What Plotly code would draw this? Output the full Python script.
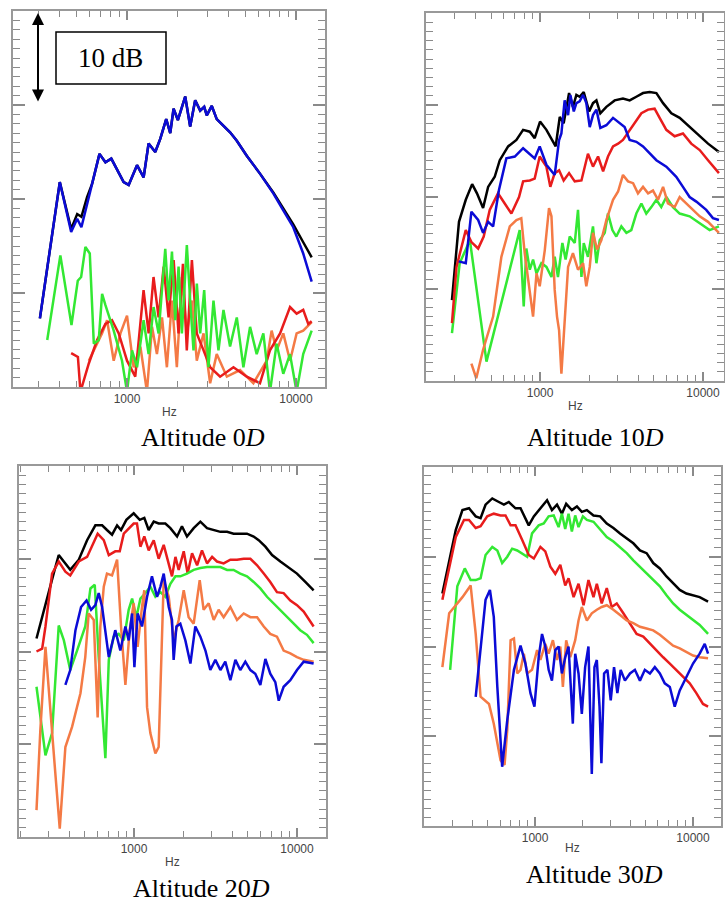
import plotly.graph_objects as go

# ---------------- data (frequency in Hz, level in dB, relative scale 0-40) ----------------
# Altitude 0D
p1_black_f = [305, 400, 467, 507, 537, 580, 621, 687, 745, 807, 955, 1023, 1146, 1254, 1342, 1469, 1573, 1706, 1802, 1886, 2000, 2112, 2210, 2365, 2532, 2711, 2863, 2966, 3175, 3397, 3636, 4074, 4465, 5113, 6124, 7343, 8413, 9640, 11043, 12390]
p1_black_db = [7.3, 21.8, 16.8, 18.4, 18.1, 20.2, 21.6, 24.8, 23.9, 24.3, 21.8, 21.5, 23.6, 22.3, 25.9, 25.0, 26.4, 28.5, 27.0, 29.6, 28.4, 29.8, 30.9, 27.7, 30.5, 29.4, 29.8, 28.9, 29.9, 28.5, 28.0, 27.1, 26.2, 24.6, 22.7, 20.7, 19.0, 17.3, 15.4, 13.8]
p1_blue_f = [305, 400, 467, 507, 537, 621, 687, 745, 807, 955, 1023, 1146, 1254, 1342, 1469, 1573, 1706, 1802, 1886, 2000, 2112, 2210, 2365, 2532, 2711, 2863, 2966, 3175, 3397, 3636, 4074, 4465, 5113, 6124, 7343, 8413, 9640, 11043, 12390]
p1_blue_db = [7.3, 21.8, 16.5, 17.9, 17.0, 21.5, 24.8, 23.9, 24.3, 21.8, 21.5, 23.6, 22.3, 25.9, 25.0, 26.4, 28.5, 27.0, 29.6, 28.4, 29.8, 30.9, 27.7, 30.5, 29.4, 29.8, 28.9, 29.9, 28.5, 28.0, 27.1, 26.2, 24.6, 22.7, 20.6, 18.8, 17.0, 14.2, 11.2]
p1_green_f = [337, 403, 469, 511, 535, 567, 602, 636, 680, 712, 745, 834, 934, 1000, 1071, 1146, 1254, 1342, 1436, 1538, 1610, 1684, 1762, 1845, 1929, 2019, 2112, 2260, 2365, 2475, 2590, 2711, 2863, 3034, 3250, 3478, 3724, 4074, 4465, 4886, 5350, 5856, 6412, 7019, 7684, 8413, 9220, 10090, 11043, 12390]
p1_green_db = [5.0, 14.0, 6.6, 11.3, 11.7, 14.9, 14.2, 4.6, 5.0, 9.9, 8.7, 6.0, 2.8, -0.5, 3.9, 2.1, 7.1, 3.5, 8.5, 5.7, 10.3, 14.7, 9.2, 14.4, 7.1, 12.8, 5.7, 15.1, 9.2, 3.9, 11.0, 5.7, 10.3, 2.1, 9.2, 3.9, 8.2, 4.3, 7.4, 2.1, 6.4, 3.5, 5.7, -0.5, 4.6, 1.4, 3.5, -0.5, 3.5, 6.0]
p1_red_f = [467, 512, 530, 594, 665, 745, 815, 893, 1000, 1119, 1253, 1343, 1435, 1538, 1648, 1762, 1888, 2018, 2143, 2259, 2421, 2588, 2838, 3105, 3556, 4266, 5117, 6124, 7015, 8054, 9226, 10093, 11041, 11830, 12390]
p1_red_db = [3.6, 3.2, -0.5, 2.5, 5.0, 6.7, 7.1, 5.7, 2.8, 1.1, 10.3, 5.7, 11.7, 7.4, 12.8, 7.4, 13.5, 5.7, 13.1, 3.9, 13.5, 5.7, 3.9, 2.1, 1.1, 2.1, 1.1, 0.4, 3.9, 5.7, 8.5, 7.8, 8.2, 6.7, 7.0]
p1_orange_f = [594, 665, 711, 762, 834, 914, 1000, 1094, 1200, 1312, 1406, 1503, 1611, 1722, 1845, 1972, 2113, 2259, 2421, 2588, 2838, 3105, 3396, 3899, 4667, 5598, 6714, 7178, 7691, 8414, 9226, 10093, 11041, 12390]
p1_orange_db = [2.8, 4.6, 5.7, 7.1, 2.8, 5.7, 7.6, 2.1, 4.3, -0.5, 6.4, 3.5, 7.4, 2.1, 9.2, 2.1, 11.7, 5.7, 9.2, 2.8, 5.7, 0.4, 3.5, 1.1, 1.8, 0.4, 2.8, 6.0, 3.9, 5.7, 2.8, 5.7, 6.0, 6.9]

# Altitude 10D
p2_black_f = [288, 318, 350, 383, 410, 447, 480, 527, 566, 637, 716, 787, 865, 927, 1000, 1094, 1247, 1321, 1396, 1507, 1592, 1671, 1750, 1854, 2000, 2113, 2218, 2344, 2553, 2871, 3228, 3548, 3899, 4285, 4710, 5176, 5689, 6397, 7194, 8279, 9550, 10740, 12530]
p2_black_db = [8.8, 17.3, 19.7, 21.4, 20.4, 18.8, 21.1, 22.2, 24.0, 25.5, 26.2, 27.3, 27.1, 26.4, 28.2, 27.3, 25.5, 28.7, 28.0, 31.3, 29.8, 31.1, 30.9, 31.4, 29.3, 30.2, 30.5, 29.1, 29.8, 30.5, 30.7, 30.5, 30.9, 31.3, 31.4, 31.3, 30.2, 29.1, 28.6, 27.6, 26.6, 25.8, 24.9]
p2_blue_f = [317, 350, 379, 417, 447, 480, 515, 560, 621, 700, 787, 865, 927, 995, 1094, 1230, 1288, 1309, 1352, 1416, 1486, 1535, 1611, 1671, 1750, 1837, 1923, 2018, 2113, 2218, 2344, 2553, 2805, 3083, 3304, 3548, 3899, 4285, 4710, 5176, 5957, 6855, 7534, 8279, 9099, 10470, 11510, 12530]
p2_blue_db = [13.0, 12.8, 18.4, 17.5, 16.1, 17.3, 16.8, 20.8, 24.2, 24.4, 25.3, 24.6, 24.2, 25.5, 23.5, 22.4, 25.1, 26.2, 26.9, 30.5, 28.9, 31.1, 29.3, 30.2, 30.4, 31.1, 30.2, 27.6, 28.9, 29.5, 27.5, 27.8, 28.6, 28.0, 27.6, 26.2, 26.0, 25.5, 24.7, 24.0, 23.3, 22.2, 21.1, 20.0, 19.5, 18.6, 17.7, 17.5]
p2_red_f = [288, 307, 350, 379, 417, 451, 491, 552, 607, 667, 743, 787, 865, 927, 995, 1094, 1156, 1230, 1309, 1396, 1507, 1633, 1795, 1968, 2113, 2270, 2438, 2612, 2805, 3013, 3228, 3548, 3811, 4188, 4603, 5047, 5420, 5957, 6699, 7534, 8472, 9550, 10740, 12530]
p2_red_db = [6.3, 12.4, 16.4, 15.1, 14.4, 15.7, 18.6, 20.4, 19.3, 18.2, 20.0, 21.7, 21.8, 22.0, 24.4, 23.3, 21.1, 22.6, 22.9, 21.8, 22.6, 21.7, 21.8, 24.7, 23.3, 24.4, 22.8, 24.4, 25.5, 25.8, 26.2, 27.3, 28.0, 29.1, 29.5, 29.6, 28.6, 27.3, 26.6, 26.9, 25.8, 25.1, 24.0, 22.6]
p2_orange_f = [379, 406, 447, 515, 579, 652, 716, 767, 805, 843, 906, 951, 995, 1069, 1135, 1175, 1230, 1271, 1309, 1352, 1416, 1486, 1592, 1710, 1837, 1923, 2018, 2113, 2239, 2377, 2553, 2805, 3013, 3228, 3467, 3724, 3990, 4285, 4603, 4932, 5297, 5689, 6095, 6699, 7194, 7907, 8690, 9550, 10740, 12530]
p2_orange_db = [1.9, 0.3, 3.4, 7.0, 13.5, 16.8, 17.5, 17.7, 13.9, 11.3, 7.0, 11.7, 10.3, 14.2, 18.8, 17.9, 9.9, 7.0, 5.5, 0.8, 5.9, 12.4, 13.9, 12.1, 12.8, 10.3, 12.4, 16.1, 14.3, 15.3, 17.5, 19.7, 20.6, 22.4, 21.7, 21.5, 20.4, 21.1, 20.4, 20.7, 19.7, 21.1, 19.3, 18.9, 20.0, 19.3, 18.6, 17.9, 17.3, 16.1]
p2_green_f = [288, 321, 371, 469, 750, 794, 824, 865, 906, 951, 1019, 1094, 1175, 1230, 1288, 1371, 1435, 1521, 1633, 1710, 1795, 1854, 1968, 2113, 2218, 2323, 2495, 2612, 2780, 2938, 3155, 3388, 3631, 3899, 4188, 4487, 4819, 5176, 5546, 5957, 6546, 7194, 8279, 9550, 10990, 12530]
p2_green_db = [5.2, 12.8, 15.3, 2.1, 16.4, 8.1, 14.4, 12.1, 13.2, 11.7, 12.8, 12.4, 11.3, 13.5, 11.3, 15.0, 13.2, 15.7, 15.0, 18.6, 11.3, 15.0, 13.5, 16.8, 12.8, 15.3, 16.1, 18.2, 16.4, 15.7, 16.8, 16.1, 16.4, 18.2, 19.3, 18.2, 18.9, 19.7, 18.9, 20.0, 18.9, 18.2, 17.9, 17.1, 16.4, 16.8]

# Altitude 20D
p3_black_f = [252, 286, 321, 345, 379, 406, 458, 515, 579, 637, 682, 733, 787, 832, 897, 995, 1084, 1156, 1230, 1321, 1416, 1556, 1671, 1837, 1968, 2113, 2323, 2553, 2805, 3083, 3388, 3724, 4083, 4487, 4932, 5420, 5821, 6397, 7031, 7907, 8892, 10000, 11250, 12650]
p3_black_db = [21.4, 25.2, 28.4, 30.4, 29.5, 28.8, 29.9, 32.0, 33.6, 33.6, 33.1, 32.6, 33.6, 33.1, 34.2, 34.9, 34.2, 34.4, 33.1, 34.0, 33.8, 33.8, 33.3, 32.4, 33.5, 32.4, 33.3, 34.0, 33.3, 33.1, 32.9, 32.9, 32.7, 32.7, 32.7, 32.4, 32.0, 31.3, 30.4, 29.7, 29.0, 28.4, 27.5, 26.6]
p3_red_f = [252, 273, 286, 314, 345, 379, 406, 458, 515, 552, 598, 652, 700, 767, 817, 865, 927, 995, 1042, 1094, 1156, 1230, 1321, 1416, 1521, 1633, 1710, 1795, 1879, 2018, 2133, 2270, 2438, 2612, 2805, 3013, 3228, 3548, 3899, 4285, 4710, 5176, 5689, 6252, 6855, 7534, 8279, 9099, 10000, 10990, 12650]
p3_red_db = [20.0, 20.3, 22.7, 28.4, 29.7, 28.6, 28.2, 29.7, 30.2, 31.3, 32.7, 32.0, 30.4, 30.8, 30.8, 32.7, 33.3, 33.8, 33.8, 31.3, 32.4, 30.9, 32.0, 30.0, 31.5, 29.5, 28.1, 30.2, 28.8, 30.8, 28.4, 30.6, 29.3, 30.9, 29.5, 30.2, 29.7, 29.5, 29.9, 29.9, 30.0, 30.0, 29.3, 28.4, 27.5, 26.4, 26.3, 25.5, 25.0, 24.3, 22.7]
p3_green_f = [252, 266, 286, 314, 345, 371, 406, 447, 502, 540, 574, 607, 637, 667, 700, 750, 805, 865, 927, 973, 1033, 1094, 1175, 1259, 1352, 1452, 1556, 1671, 1795, 1923, 2113, 2323, 2553, 2805, 3083, 3388, 3724, 4083, 4487, 4932, 5420, 5957, 6546, 7194, 7907, 8690, 9550, 10470, 11510, 12650]
p3_green_db = [16.2, 12.9, 8.8, 11.2, 22.8, 21.2, 18.0, 20.1, 22.7, 26.8, 27.2, 19.4, 13.3, 8.5, 19.1, 21.6, 21.9, 21.2, 24.5, 25.7, 23.7, 25.7, 26.3, 27.0, 25.9, 26.4, 25.9, 27.3, 28.1, 28.1, 28.4, 28.8, 29.0, 29.1, 29.1, 29.1, 28.8, 28.8, 28.4, 28.1, 27.5, 26.8, 25.9, 25.2, 24.5, 23.7, 23.0, 22.3, 21.8, 20.9]
p3_orange_f = [252, 266, 286, 307, 329, 350, 379, 417, 469, 502, 527, 566, 598, 621, 652, 682, 733, 787, 832, 885, 940, 995, 1052, 1119, 1156, 1202, 1259, 1352, 1416, 1521, 1633, 1750, 1879, 2018, 2163, 2323, 2529, 2673, 2871, 3083, 3304, 3548, 3899, 4285, 4710, 5176, 5689, 6252, 6855, 7534, 8279, 9099, 10000, 10990, 12650]
p3_orange_db = [2.9, 11.5, 20.5, 14.0, 6.8, 0.9, 9.7, 11.9, 15.5, 19.4, 24.1, 23.4, 12.9, 22.7, 27.0, 28.4, 28.2, 29.9, 22.7, 16.4, 22.3, 25.2, 20.5, 24.8, 26.6, 14.0, 11.2, 9.0, 9.7, 27.7, 25.9, 21.2, 23.4, 26.6, 23.7, 23.0, 27.7, 24.5, 25.2, 23.4, 24.5, 23.7, 24.8, 23.4, 24.1, 23.7, 23.7, 22.7, 21.9, 21.6, 20.1, 19.8, 19.4, 19.1, 18.9]
p3_blue_f = [379, 406, 437, 473, 511, 545, 579, 607, 637, 700, 767, 824, 885, 927, 973, 1005, 1052, 1119, 1202, 1288, 1384, 1452, 1521, 1633, 1710, 1750, 1820, 1923, 2065, 2218, 2377, 2553, 2742, 2938, 3155, 3388, 3631, 3899, 4188, 4487, 4819, 5176, 5546, 5957, 6397, 6855, 7362, 7727, 8279, 9099, 10000, 10990, 12650]
p3_blue_db = [16.4, 18.0, 22.3, 24.8, 25.5, 24.5, 25.0, 26.3, 24.8, 19.4, 22.3, 20.1, 22.7, 21.2, 24.1, 18.3, 24.1, 22.7, 25.9, 28.1, 25.9, 27.0, 28.4, 24.8, 23.4, 19.1, 22.7, 23.0, 21.2, 18.7, 22.7, 21.6, 20.1, 18.0, 19.1, 18.0, 18.9, 16.9, 19.1, 18.0, 18.9, 18.0, 17.6, 16.4, 19.2, 17.6, 16.7, 14.7, 16.2, 16.9, 18.0, 18.9, 18.7]

# Altitude 30D
p4_black_f = [259, 286, 315, 347, 382, 421, 452, 486, 536, 590, 635, 682, 752, 809, 869, 912, 982, 1081, 1191, 1279, 1377, 1479, 1574, 1710, 1841, 1977, 2128, 2344, 2582, 2844, 3133, 3451, 3802, 4188, 4613, 5082, 5598, 6166, 6792, 7482, 8241, 9078, 10000, 11015, 12450]
p4_black_db = [25.9, 29.6, 33.0, 35.2, 35.4, 34.5, 34.3, 35.8, 36.5, 36.1, 35.8, 36.1, 35.4, 35.4, 34.3, 33.5, 34.5, 35.4, 36.3, 35.2, 35.8, 34.8, 35.9, 35.2, 35.6, 35.0, 35.2, 34.6, 34.5, 33.7, 33.2, 32.6, 32.0, 31.5, 30.7, 30.4, 29.3, 28.7, 27.8, 27.0, 26.3, 25.9, 25.7, 25.5, 25.0]
p4_red_f = [259, 286, 315, 355, 382, 421, 452, 498, 548, 605, 650, 700, 752, 828, 912, 982, 1081, 1161, 1250, 1343, 1445, 1552, 1629, 1754, 1884, 2028, 2178, 2344, 2460, 2642, 2844, 3055, 3289, 3622, 3990, 4395, 4842, 5333, 5875, 6471, 7129, 7852, 8650, 9528, 10495, 11561, 12450]
p4_red_db = [25.2, 28.9, 32.2, 34.1, 34.1, 33.2, 33.4, 34.5, 34.8, 34.6, 34.6, 33.5, 33.5, 31.9, 30.2, 29.8, 31.1, 30.6, 28.9, 28.1, 29.1, 26.8, 27.6, 25.5, 27.0, 24.6, 27.4, 25.5, 27.0, 24.8, 26.5, 24.4, 24.8, 23.7, 22.6, 21.4, 21.1, 20.3, 19.6, 18.8, 18.1, 17.4, 16.6, 15.9, 14.8, 13.6, 13.3]
p4_green_f = [290, 307, 322, 359, 391, 421, 452, 486, 536, 577, 619, 667, 716, 771, 828, 891, 957, 1054, 1135, 1219, 1312, 1409, 1479, 1552, 1629, 1710, 1795, 1884, 2009, 2128, 2344, 2582, 2844, 3133, 3451, 3802, 4188, 4613, 5082, 5598, 6166, 6792, 7482, 8241, 9078, 10000, 11015, 12450]
p4_green_db = [17.4, 22.2, 26.7, 28.7, 27.4, 27.4, 27.6, 30.2, 31.1, 30.7, 29.3, 30.0, 30.9, 30.7, 30.4, 30.0, 32.6, 33.5, 33.7, 34.5, 34.6, 33.3, 34.8, 33.1, 34.8, 32.8, 34.6, 33.3, 34.5, 34.1, 33.9, 33.0, 32.2, 31.7, 31.1, 30.4, 29.6, 28.9, 28.1, 27.4, 26.7, 25.7, 24.8, 24.1, 23.5, 22.9, 22.4, 21.4]
p4_orange_f = [259, 286, 315, 347, 391, 421, 452, 511, 548, 605, 641, 667, 700, 735, 771, 809, 849, 891, 957, 1030, 1081, 1161, 1219, 1297, 1377, 1445, 1500, 1574, 1671, 1795, 1884, 1977, 2128, 2286, 2460, 2642, 2844, 3133, 3451, 3802, 4188, 4613, 5082, 5598, 6166, 6792, 7482, 8241, 9078, 10000, 11015, 12450]
p4_orange_db = [17.7, 23.7, 24.6, 25.5, 26.8, 21.4, 14.4, 13.6, 11.4, 7.3, 6.8, 10.7, 20.7, 20.9, 17.0, 17.4, 19.2, 17.0, 17.4, 19.6, 18.5, 20.3, 19.2, 20.7, 18.5, 20.0, 15.5, 20.7, 18.8, 20.7, 22.9, 24.4, 22.9, 23.7, 24.1, 24.4, 24.6, 24.1, 23.5, 22.9, 22.6, 22.2, 22.0, 21.8, 21.3, 20.7, 20.1, 19.8, 19.4, 19.0, 18.8, 18.7]
p4_blue_f = [421, 452, 486, 518, 548, 577, 619, 667, 735, 809, 869, 935, 991, 1054, 1107, 1161, 1219, 1279, 1343, 1409, 1479, 1552, 1629, 1734, 1795, 1884, 1977, 2075, 2178, 2286, 2377, 2460, 2559, 2630, 2735, 2871, 3013, 3162, 3319, 3483, 3707, 3990, 4285, 4613, 4955, 5333, 5728, 6166, 6622, 7129, 7656, 8241, 9078, 10000, 11015, 11858, 12450]
p4_blue_db = [14.4, 20.0, 25.2, 26.3, 23.3, 15.5, 6.6, 11.8, 17.4, 20.1, 18.1, 14.8, 13.3, 18.8, 21.4, 20.0, 17.4, 16.2, 19.6, 20.0, 17.0, 18.8, 20.0, 11.4, 19.2, 17.0, 12.5, 17.7, 20.0, 5.8, 17.7, 18.5, 13.3, 7.0, 17.0, 17.4, 14.0, 17.7, 14.8, 17.4, 16.2, 17.0, 17.4, 16.2, 17.4, 17.0, 17.7, 17.0, 15.9, 15.5, 13.3, 15.1, 16.6, 18.1, 19.2, 20.3, 19.2]

captions = ["Altitude 0<i>D</i>", "Altitude 10<i>D</i>", "Altitude 20<i>D</i>", "Altitude 30<i>D</i>"]
x_tick_vals = [1000, 10000]
x_tick_text = ["1000", "10000"]
x_minor_vals = [200, 300, 400, 500, 600, 700, 800, 900, 2000, 3000, 4000, 5000, 6000, 7000, 8000, 9000]
y_major_vals = [10, 20, 30]
y_minor_step = 1

# ---------------- styling ----------------
COL = {"black": "#000000", "blue": "#0b0bd6", "red": "#e81c1c",
       "orange": "#f47a45", "green": "#33e833"}

W, H = 725, 902
# panel frames in pixels (left, top, right, bottom) and x range (log10)
panels = [
    dict(px=(13, 11, 325, 387), xr=[2.325, 4.172],
         series=[("black", p1_black_f, p1_black_db), ("blue", p1_blue_f, p1_blue_db),
                 ("orange", p1_orange_f, p1_orange_db), ("red", p1_red_f, p1_red_db),
                 ("green", p1_green_f, p1_green_db)],
         cap=(203, 437), hz=412),
    dict(px=(426, 13, 724, 381), xr=[2.30, 4.129],
         series=[("black", p2_black_f, p2_black_db), ("green", p2_green_f, p2_green_db),
                 ("orange", p2_orange_f, p2_orange_db), ("red", p2_red_f, p2_red_db),
                 ("blue", p2_blue_f, p2_blue_db)],
         cap=(595, 437), hz=406),
    dict(px=(19, 466, 326, 837), xr=[2.294, 4.178],
         series=[("black", p3_black_f, p3_black_db), ("red", p3_red_f, p3_red_db),
                 ("green", p3_green_f, p3_green_db), ("orange", p3_orange_f, p3_orange_db),
                 ("blue", p3_blue_f, p3_blue_db)],
         cap=(202, 888), hz=862),
    dict(px=(424, 467, 721, 826), xr=[2.297, 4.177],
         series=[("black", p4_black_f, p4_black_db), ("green", p4_green_f, p4_green_db),
                 ("red", p4_red_f, p4_red_db), ("orange", p4_orange_f, p4_orange_db),
                 ("blue", p4_blue_f, p4_blue_db)],
         cap=(594, 874), hz=848),
]

fig = go.Figure()
layout = dict(width=W, height=H, margin=dict(l=0, r=0, t=0, b=0),
              paper_bgcolor="white", plot_bgcolor="white", showlegend=False)
annotations = []
FRAME = "#999999"
TICK = "#8a8a8a"


def axname(k):
    return "" if k == 1 else str(k)


for i, p in enumerate(panels, start=1):
    l, t, r, b = p["px"]
    xd = [l / W, r / W]
    yd = [1 - b / H, 1 - t / H]
    xa, ya = "x" + axname(i), "y" + axname(i)
    j = i + 4  # overlaying axes carrying the short (minor) ticks
    xo, yo = "x" + axname(j), "y" + axname(j)
    for name, f, db in p["series"]:
        fig.add_trace(go.Scatter(x=f, y=db, mode="lines", xaxis=xa, yaxis=ya,
                                 line=dict(color=COL[name], width=2.5),
                                 hoverinfo="skip"))
    fig.add_trace(go.Scatter(x=[None], y=[None], mode="lines", xaxis=xo, yaxis=yo,
                             hoverinfo="skip"))
    layout["xaxis" + axname(i)] = dict(
        type="log", range=p["xr"], domain=xd, anchor=ya,
        showgrid=False, zeroline=False, showline=True, linecolor=FRAME, linewidth=1.5,
        mirror="ticks", ticks="inside", ticklen=9, tickwidth=1.5, tickcolor=TICK,
        tickmode="array", tickvals=x_tick_vals, ticktext=x_tick_text,
        tickfont=dict(family="Liberation Sans, Arial", size=12, color="#444444"),
        fixedrange=True)
    layout["yaxis" + axname(i)] = dict(
        range=[0, 40], domain=yd, anchor=xa,
        showgrid=False, zeroline=False, showline=True, linecolor=FRAME, linewidth=1.5,
        mirror="ticks", ticks="inside", ticklen=12, tickwidth=1.5, tickcolor=TICK,
        tickmode="array", tickvals=y_major_vals, showticklabels=False,
        fixedrange=True)
    layout["xaxis" + axname(j)] = dict(
        type="log", range=p["xr"], overlaying=xa, anchor=ya, side="bottom",
        showgrid=False, zeroline=False, showline=True, linecolor=FRAME, linewidth=1.5,
        mirror="ticks", ticks="inside", ticklen=6, tickwidth=1.3, tickcolor=TICK,
        tickmode="array", tickvals=x_minor_vals, showticklabels=False,
        fixedrange=True)
    layout["yaxis" + axname(j)] = dict(
        range=[0, 40], overlaying=ya, anchor=xa, side="left",
        showgrid=False, zeroline=False, showline=True, linecolor=FRAME, linewidth=1.5,
        mirror="ticks", ticks="inside", ticklen=7, tickwidth=1.3, tickcolor=TICK,
        tickmode="linear", tick0=0, dtick=y_minor_step, showticklabels=False,
        fixedrange=True)
    cx, cy = p["cap"]
    annotations.append(dict(x=cx / W, y=1 - cy / H, xref="paper", yref="paper",
                            text=captions[i - 1], showarrow=False,
                            font=dict(family="Liberation Serif, Times New Roman", size=26,
                                      color="black"),
                            xanchor="center", yanchor="middle"))
    annotations.append(dict(x=((l + r) / 2) / W, y=1 - p["hz"] / H, xref="paper", yref="paper",
                            text="Hz", showarrow=False,
                            font=dict(family="Liberation Sans, Arial", size=12, color="#444444"),
                            xanchor="center", yanchor="middle"))

# 10 dB scale indicator
annotations.append(dict(x=110 / W, y=1 - 58 / H, xref="paper", yref="paper",
                        text="10 dB", showarrow=False,
                        font=dict(family="Liberation Serif, Times New Roman", size=27,
                                  color="black"),
                        xanchor="center", yanchor="middle"))
annotations.append(dict(x=38 / W, y=1 - 13 / H, xref="paper", yref="paper",
                        ax=0, ay=90, axref="pixel", ayref="pixel",
                        showarrow=True, arrowhead=2, startarrowhead=2, arrowside="end+start",
                        arrowsize=1.2, arrowwidth=2, arrowcolor="black", text=""))
layout["shapes"] = [dict(type="rect", xref="paper", yref="paper",
                         x0=56 / W, x1=166 / W, y0=1 - 84 / H, y1=1 - 32 / H,
                         line=dict(color="black", width=1.5), fillcolor="white",
                         layer="above")]
layout["annotations"] = annotations
fig.update_layout(**layout)
fig.write_html("out.html")
